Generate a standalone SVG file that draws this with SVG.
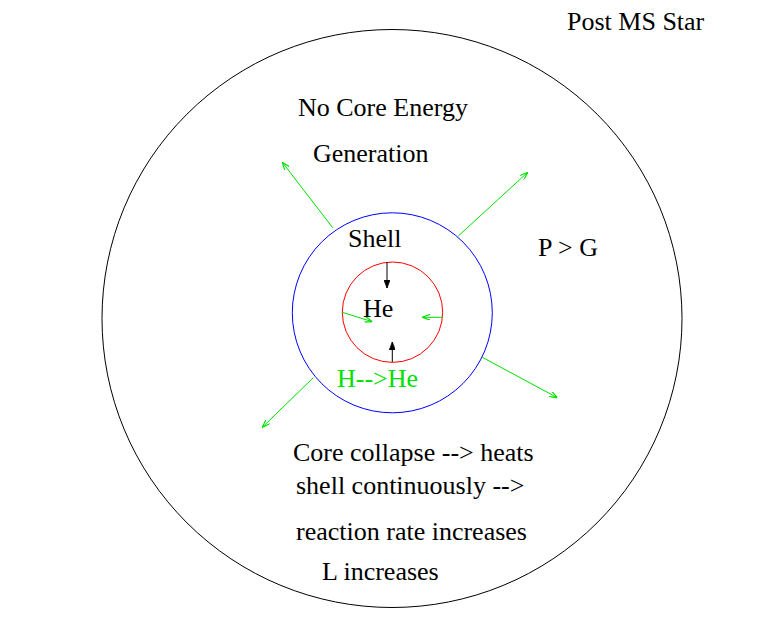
<svg xmlns="http://www.w3.org/2000/svg" width="782" height="620" viewBox="0 0 782 620">
<style>
  text { font-family: "Liberation Serif", "Times New Roman", serif; font-size: 26px; fill: #000; }
  .green-text { fill: #00e000; }
  .c { fill: none; stroke-width: 1; }
  .g { stroke: #00e000; stroke-width: 1; fill: none; }
  .k { stroke: #000; stroke-width: 1; fill: none; }
</style>
<defs>
  <marker id="ag" viewBox="0 0 8 6" refX="8" refY="3" markerWidth="8" markerHeight="6" markerUnits="userSpaceOnUse" orient="auto">
    <path d="M0,0 L8,3 L0,6" fill="none" stroke="#00e000" stroke-width="1.2"/>
  </marker>
  <marker id="ak" viewBox="0 0 8 6" refX="8" refY="3" markerWidth="8" markerHeight="6" markerUnits="userSpaceOnUse" orient="auto">
    <path d="M0,0 L8,3 L0,6 Z" fill="#000" stroke="#000" stroke-width="0.8"/>
  </marker>
</defs>
<rect width="782" height="620" fill="#fff"/>
<g id="star">
  <ellipse cx="392" cy="318.5" rx="290" ry="289" class="c" stroke="#000"/>
</g>
<g id="shell">
  <circle cx="392.3" cy="312.8" r="100" class="c" stroke="#0000ff"/>
</g>
<g id="core">
  <circle cx="392.5" cy="312.2" r="50.2" class="c" stroke="#ff0000"/>
</g>
<g id="connectors">
  <line x1="332.7" y1="227.7" x2="282.3" y2="162.3" class="g" marker-end="url(#ag)"/>
  <line x1="458.3" y1="236" x2="527.7" y2="172.3" class="g" marker-end="url(#ag)"/>
  <line x1="482.3" y1="357.3" x2="557.3" y2="397.7" class="g" marker-end="url(#ag)"/>
  <line x1="313.3" y1="377.7" x2="262.3" y2="427.3" class="g" marker-end="url(#ag)"/>
  <line x1="342.3" y1="312.3" x2="372.3" y2="321.7" class="g" marker-end="url(#ag)"/>
  <line x1="442.7" y1="317.3" x2="422.3" y2="317.3" class="g" marker-end="url(#ag)"/>
  <line x1="387" y1="262" x2="387" y2="288" class="k" marker-end="url(#ak)"/>
  <line x1="392.3" y1="362" x2="392.3" y2="342" class="k" marker-end="url(#ak)"/>
</g>
<g id="labels">
  <text x="567" y="30">Post MS Star</text>
  <text x="298" y="116">No Core Energy</text>
  <text x="313" y="162">Generation</text>
  <text x="538" y="256">P &gt; G</text>
  <text x="348" y="247">Shell</text>
  <text x="363" y="317">He</text>
  <text x="337" y="387" class="green-text">H--&gt;He</text>
  <text x="293" y="461">Core collapse --&gt; heats</text>
  <text x="296" y="494">shell continuously --&gt;</text>
  <text x="296" y="540">reaction rate increases</text>
  <text x="322" y="580">L increases</text>
</g>
</svg>
